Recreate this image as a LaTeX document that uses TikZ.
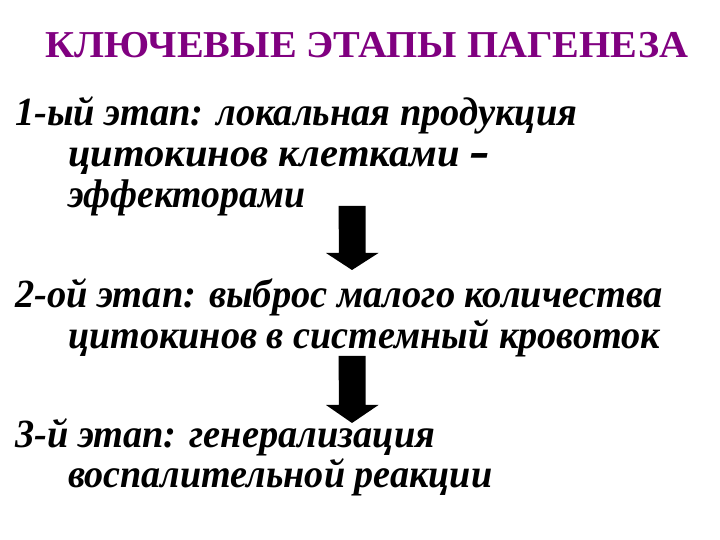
\documentclass[tikz,border=0pt]{standalone}
\usepackage{fontspec}
\newfontfamily\fa{Liberation Serif}
\newfontfamily\fb{DejaVu Serif}
\definecolor{titlepurple}{RGB}{128,0,128}
\newcommand{\titlef}{\fontsize{38}{38}\selectfont\fa\bfseries}
\newcommand{\bodyf}{\fontsize{40}{40}\selectfont\fa\bfseries\itshape}
\newcommand{\mydashsym}{{\fb\bfseries\itshape –}}
\tikzset{
  titletext/.style={anchor=base west, inner sep=0pt, text=titlepurple},
  bodytext/.style={anchor=base west, inner sep=0pt},
  blockarrow/.style={fill=black, draw=none}
}
\begin{document}
\begin{tikzpicture}[x=1pt,y=1pt]
\useasboundingbox (0,0) rectangle (720,540);
\node[titletext] (title) at (45,482) {\titlef\resizebox{643pt}{\height}{КЛЮЧЕВЫЕ ЭТАПЫ ПАГЕНЕЗА}};
\node[bodytext] (s1a) at (15,414) {\bodyf\resizebox{562pt}{\height}{1-ый этап: локальная продукция}};
\node[bodytext] (s1b) at (68,373) {\bodyf\resizebox{422pt}{\height}{цитокинов клетками \mydashsym}};
\node[bodytext] (s1c) at (68,332) {\bodyf\resizebox{237pt}{\height}{эффекторами}};
\node[bodytext] (s2a) at (15,232) {\bodyf\resizebox{647pt}{\height}{2-ой этап: выброс малого количества}};
\node[bodytext] (s2b) at (68,191) {\bodyf\resizebox{592pt}{\height}{цитокинов в системный кровоток}};
\node[bodytext] (s3a) at (15,92) {\bodyf\resizebox{420pt}{\height}{3-й этап: генерализация}};
\node[bodytext] (s3b) at (68,52) {\bodyf\resizebox{424pt}{\height}{воспалительной реакции}};
% arrow 1
\coordinate (a1) at (352,334);
\fill[blockarrow] (a1) ++(-13.5,0) -- ++(27,0) -- ++(0,-47) -- ++(13,0) -- (352,270) -- (326,287) -- ++(13,0) -- cycle;
% arrow 2
\coordinate (a2) at (352,184);
\fill[blockarrow] (a2) ++(-13.5,0) -- ++(27,0) -- ++(0,-49) -- ++(13,0) -- (352,117) -- (326,135) -- ++(13,0) -- cycle;
\end{tikzpicture}
\end{document}
